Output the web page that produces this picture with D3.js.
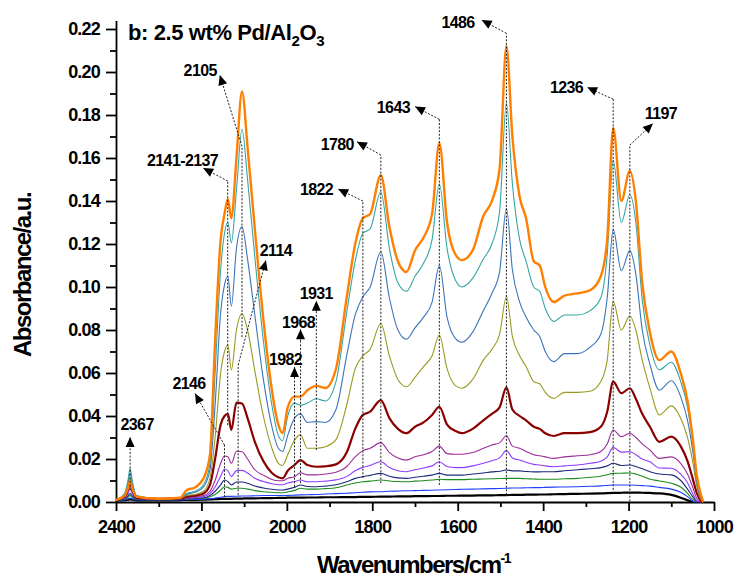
<!DOCTYPE html>
<html>
<head>
<meta charset="utf-8">
<script src="https://cdn.jsdelivr.net/npm/d3@7"></script>
<style>
  body { margin: 0; background: #fff; }
  svg { display: block; font-family: "Liberation Sans", Arial, sans-serif; font-weight: bold; }
  .axis path, .axis line { stroke: #000; stroke-width: 1.8; }
  .axis text { font-size: 18px; font-weight: bold; letter-spacing: -0.8px; fill: #000; }
  .label { font-size: 16px; letter-spacing: -0.6px; fill: #000; }
</style>
</head>
<body>
<div id="vis"></div>
<script>
// wavenumber grid (cm-1) shared by all spectra
var wavenumbers = [2400, 2380, 2372, 2367, 2362, 2352, 2300, 2250, 2235, 2215,
    2195, 2180, 2168, 2155, 2146, 2138, 2130, 2118, 2105, 2092,
    2075, 2055, 2035, 2020, 2010, 1998, 1982, 1968, 1952, 1931,
    1910, 1885, 1860, 1840, 1822, 1805, 1780, 1760, 1740, 1720,
    1700, 1680, 1660, 1643, 1625, 1605, 1590, 1565, 1540, 1520,
    1502, 1486, 1472, 1455, 1440, 1422, 1408, 1395, 1375, 1350,
    1320, 1290, 1265, 1250, 1236, 1217, 1197, 1183, 1168, 1150,
    1128, 1100, 1078, 1062, 1050, 1040, 1030, 1025];

// absorbance values, bottom spectrum first
var absBlack = [0.0008, 0.0009, 0.0011, 0.0012, 0.0011, 0.0008, 0.0008, 0.0009, 0.001, 0.001,
    0.0011, 0.0012, 0.0013, 0.0014, 0.0015, 0.0015, 0.0015, 0.0016, 0.0016, 0.0017,
    0.0017, 0.0018, 0.0018, 0.0019, 0.0019, 0.002, 0.002, 0.002, 0.0021, 0.0021,
    0.0022, 0.0022, 0.0023, 0.0023, 0.0024, 0.0024, 0.0025, 0.0025, 0.0026, 0.0026,
    0.0027, 0.0027, 0.0028, 0.0028, 0.0029, 0.0029, 0.003, 0.003, 0.0031, 0.0031,
    0.0032, 0.0032, 0.0033, 0.0033, 0.0034, 0.0034, 0.0035, 0.0035, 0.0036, 0.0037,
    0.0038, 0.0039, 0.004, 0.0041, 0.0042, 0.0043, 0.0044, 0.0044, 0.0043, 0.0042,
    0.004, 0.0033, 0.002, 0.0008, 0, 0, 0, 0];
var absBlue = [0.0008, 0.001, 0.0014, 0.0018, 0.0014, 0.001, 0.0009, 0.001, 0.0011, 0.0012,
    0.0013, 0.0015, 0.0018, 0.0022, 0.0025, 0.0026, 0.0026, 0.0027, 0.0028, 0.0028,
    0.0029, 0.003, 0.003, 0.003, 0.003, 0.0031, 0.0032, 0.0033, 0.0034, 0.0035,
    0.0037, 0.0039, 0.0041, 0.0043, 0.0045, 0.0047, 0.0048, 0.005, 0.0051, 0.0052,
    0.0053, 0.0054, 0.0055, 0.0056, 0.0057, 0.0058, 0.0059, 0.006, 0.0061, 0.0062,
    0.0063, 0.0064, 0.0065, 0.0065, 0.0066, 0.0067, 0.0067, 0.0068, 0.0069, 0.007,
    0.0071, 0.0073, 0.0075, 0.0077, 0.0079, 0.0079, 0.0079, 0.0078, 0.0076, 0.0074,
    0.0068, 0.006, 0.0045, 0.0025, 0.0005, 0, 0, 0];
var absGreen = [0.001, 0.0013, 0.0022, 0.003, 0.0022, 0.0012, 0.0011, 0.0012, 0.0014, 0.0016,
    0.0018, 0.0024, 0.0035, 0.0055, 0.0071, 0.0068, 0.006, 0.0064, 0.0064, 0.006,
    0.0053, 0.0048, 0.0045, 0.0043, 0.0043, 0.0047, 0.0054, 0.0064, 0.006, 0.006,
    0.0062, 0.0066, 0.0079, 0.0088, 0.0094, 0.0097, 0.0102, 0.0098, 0.0095, 0.0094,
    0.0097, 0.0099, 0.0102, 0.0106, 0.0104, 0.0104, 0.0104, 0.0106, 0.0107, 0.0108,
    0.0109, 0.011, 0.011, 0.011, 0.0108, 0.0107, 0.0106, 0.0106, 0.0106, 0.0108,
    0.011, 0.0115, 0.012, 0.0127, 0.0133, 0.0134, 0.0135, 0.013, 0.012, 0.0106,
    0.0098, 0.0087, 0.007, 0.004, 0.0012, 0, 0, 0];
var absNavy = [0.001, 0.0015, 0.0028, 0.004, 0.0028, 0.0014, 0.0012, 0.0013, 0.0016, 0.0018,
    0.002, 0.003, 0.005, 0.008, 0.0102, 0.0095, 0.0079, 0.0093, 0.0093, 0.0087,
    0.0074, 0.0065, 0.0059, 0.0056, 0.0056, 0.006, 0.0068, 0.0079, 0.0072, 0.0071,
    0.0074, 0.008, 0.0094, 0.011, 0.0118, 0.0124, 0.0133, 0.012, 0.0112, 0.011,
    0.0115, 0.012, 0.0125, 0.0133, 0.0125, 0.0125, 0.0125, 0.013, 0.0135, 0.014,
    0.0143, 0.0149, 0.0145, 0.0145, 0.0142, 0.014, 0.014, 0.0141, 0.0141, 0.0145,
    0.015, 0.0155, 0.016, 0.0168, 0.018, 0.017, 0.0172, 0.0165, 0.0155, 0.0141,
    0.013, 0.0126, 0.01, 0.006, 0.0025, 0, 0, 0];
var absViolet = [0.001, 0.0018, 0.004, 0.006, 0.004, 0.0016, 0.0012, 0.0014, 0.0018, 0.002,
    0.0025, 0.004, 0.007, 0.012, 0.0152, 0.0145, 0.0118, 0.0146, 0.0147, 0.0135,
    0.011, 0.0095, 0.0085, 0.008, 0.008, 0.0088, 0.0095, 0.0102, 0.0094, 0.0094,
    0.0097, 0.0103, 0.0118, 0.0145, 0.0161, 0.017, 0.0187, 0.016, 0.0145, 0.0141,
    0.015, 0.0158, 0.0168, 0.0187, 0.0165, 0.016, 0.016, 0.0168, 0.018, 0.0192,
    0.0205, 0.0239, 0.0205, 0.0195, 0.0185, 0.0175, 0.0172, 0.0168, 0.0164, 0.0168,
    0.0172, 0.018, 0.019, 0.021, 0.0254, 0.0232, 0.0234, 0.022, 0.02, 0.0187,
    0.0158, 0.0157, 0.013, 0.009, 0.004, 0.0005, 0, 0];
var absPurple = [0.001, 0.002, 0.005, 0.0075, 0.005, 0.0018, 0.0013, 0.0015, 0.002, 0.0025,
    0.003, 0.005, 0.01, 0.018, 0.0214, 0.021, 0.018, 0.0236, 0.0234, 0.02,
    0.015, 0.0125, 0.0105, 0.0099, 0.0099, 0.011, 0.0118, 0.0136, 0.0126, 0.0126,
    0.013, 0.0138, 0.0164, 0.021, 0.0239, 0.025, 0.0276, 0.023, 0.0205, 0.0195,
    0.021, 0.022, 0.0235, 0.026, 0.0225, 0.0222, 0.0222, 0.023, 0.025, 0.0265,
    0.0275, 0.0308, 0.026, 0.025, 0.0235, 0.022, 0.0215, 0.021, 0.0203, 0.021,
    0.0215, 0.022, 0.0235, 0.027, 0.0335, 0.0304, 0.032, 0.03, 0.027, 0.0242,
    0.0203, 0.021, 0.018, 0.013, 0.007, 0.0015, 0, 0];
var absDarkRed = [0.001, 0.0025, 0.006, 0.009, 0.006, 0.002, 0.0015, 0.0017, 0.0025, 0.003,
    0.004, 0.008, 0.02, 0.036, 0.04, 0.041, 0.0335, 0.0462, 0.0458, 0.039,
    0.028, 0.019, 0.0135, 0.0115, 0.011, 0.0145, 0.0172, 0.0195, 0.0172, 0.0164,
    0.0166, 0.0175, 0.023, 0.034, 0.0405, 0.042, 0.0474, 0.039, 0.034, 0.032,
    0.035, 0.037, 0.0405, 0.0443, 0.036, 0.033, 0.032, 0.034, 0.038, 0.041,
    0.044, 0.0533, 0.043, 0.04, 0.038, 0.035, 0.034, 0.032, 0.0307, 0.032,
    0.032, 0.0325, 0.035, 0.042, 0.056, 0.0506, 0.0529, 0.048, 0.041, 0.035,
    0.028, 0.0304, 0.026, 0.019, 0.011, 0.004, 0.0005, 0];
var absOlive = [0.001, 0.003, 0.0072, 0.011, 0.0072, 0.0024, 0.0015, 0.0017, 0.003, 0.0035,
    0.005, 0.011, 0.03, 0.06, 0.07, 0.073, 0.0614, 0.08, 0.0877, 0.08,
    0.061, 0.04, 0.025, 0.018, 0.017, 0.022, 0.0288, 0.0312, 0.025, 0.025,
    0.0257, 0.029, 0.045, 0.062, 0.068, 0.071, 0.083, 0.068, 0.057, 0.0536,
    0.058, 0.063, 0.068, 0.0777, 0.062, 0.054, 0.0529, 0.057, 0.066, 0.071,
    0.078, 0.0955, 0.077, 0.068, 0.063, 0.056, 0.055, 0.051, 0.0482, 0.051,
    0.051, 0.0515, 0.056, 0.066, 0.0932, 0.08, 0.0865, 0.08, 0.066, 0.053,
    0.0405, 0.0447, 0.039, 0.03, 0.019, 0.007, 0.001, 0];
var absSteel = [0.001, 0.0035, 0.0088, 0.0135, 0.0088, 0.0028, 0.0015, 0.0018, 0.0035, 0.0045,
    0.007, 0.015, 0.045, 0.088, 0.101, 0.105, 0.091, 0.118, 0.128, 0.113,
    0.087, 0.057, 0.035, 0.025, 0.0235, 0.031, 0.039, 0.041, 0.037, 0.0374,
    0.037, 0.043, 0.068, 0.087, 0.0955, 0.1, 0.1164, 0.095, 0.08, 0.0757,
    0.081, 0.086, 0.093, 0.11, 0.086, 0.076, 0.0743, 0.079, 0.089, 0.097,
    0.107, 0.1366, 0.108, 0.093, 0.086, 0.08, 0.077, 0.07, 0.0653, 0.069,
    0.069, 0.072, 0.078, 0.095, 0.1268, 0.1076, 0.1169, 0.106, 0.08, 0.064,
    0.052, 0.0564, 0.049, 0.038, 0.024, 0.009, 0.0015, 0];
var absTeal = [0.001, 0.004, 0.01, 0.0157, 0.01, 0.003, 0.0015, 0.0018, 0.004, 0.005,
    0.008, 0.018, 0.06, 0.108, 0.125, 0.13, 0.1205, 0.145, 0.1735, 0.15,
    0.114, 0.075, 0.045, 0.031, 0.0285, 0.04, 0.046, 0.045, 0.046, 0.048,
    0.047, 0.056, 0.088, 0.112, 0.125, 0.127, 0.1443, 0.118, 0.102, 0.098,
    0.105, 0.111, 0.122, 0.148, 0.118, 0.103, 0.1, 0.104, 0.113, 0.12,
    0.135, 0.1857, 0.148, 0.122, 0.112, 0.1, 0.098, 0.09, 0.084, 0.087,
    0.087, 0.089, 0.095, 0.115, 0.159, 0.13, 0.143, 0.13, 0.094, 0.073,
    0.0615, 0.065, 0.056, 0.044, 0.028, 0.011, 0.002, 0];
var absOrange = [0.001, 0.003, 0.0065, 0.0098, 0.0065, 0.0025, 0.0015, 0.002, 0.0055, 0.0068,
    0.011, 0.022, 0.075, 0.122, 0.134, 0.141, 0.132, 0.16, 0.191, 0.165,
    0.127, 0.085, 0.052, 0.036, 0.032, 0.044, 0.049, 0.049, 0.052, 0.054,
    0.053, 0.062, 0.095, 0.12, 0.132, 0.134, 0.152, 0.128, 0.112, 0.107,
    0.117, 0.123, 0.134, 0.167, 0.13, 0.115, 0.1125, 0.117, 0.133, 0.14,
    0.155, 0.212, 0.17, 0.142, 0.132, 0.112, 0.11, 0.1, 0.093, 0.096,
    0.097, 0.0985, 0.105, 0.122, 0.174, 0.14, 0.154, 0.14, 0.102, 0.079,
    0.066, 0.07, 0.06, 0.047, 0.03, 0.012, 0.003, 0];

var spectra = [absBlack, absBlue, absGreen, absNavy, absViolet, absPurple,
    absDarkRed, absOlive, absSteel, absTeal, absOrange];
var colors = ["#000000", "#2040ff", "#1f8c1f", "#1c2a7a", "#8f3cff", "#9b2d9b",
    "#8b0000", "#9a9a22", "#3b73b9", "#35a5a5", "#ff7f00"];
var widths = [2.2, 1.1, 1.1, 1.1, 1.1, 1.1, 2.2, 1.1, 1.1, 1.1, 2.4];

var xTicks = [2400, 2200, 2000, 1800, 1600, 1400, 1200, 1000];
var yTicks = [0, 0.02, 0.04, 0.06, 0.08, 0.10, 0.12, 0.14, 0.16, 0.18, 0.20, 0.22];

// peak labels: vertical marker at wave, arrow to the tip
var peaks = [
    {text: "2367", wave: 2367, top: 0.0256, bottom: 0.0056, tipW: 2367, tipV: 0.0302, anchor: "middle", dx: 7, dy: -7},
    {text: "2146", wave: 2146, top: 0.0265, bottom: 0.0023, tipW: 2215, tipV: 0.0505, anchor: "middle", dx: -6, dy: -4},
    {text: "2114", wave: 2114, top: 0.0637, bottom: 0.0033, tipW: 2049, tipV: 0.1125, anchor: "middle", dx: 10, dy: -4},
    {text: "2141-2137", wave: 2138.5, top: 0.1493, bottom: 0.0358, tipW: 2196, tipV: 0.1553, anchor: "end", dx: 15, dy: -2},
    {text: "2105", wave: 2105, top: 0.1654, bottom: 0.0767, tipW: 2157, tipV: 0.1986, anchor: "end", dx: -3, dy: 1},
    {text: "1982", wave: 1982, top: 0.0572, bottom: 0.007, tipW: 1982, tipV: 0.0628, anchor: "middle", dx: -9, dy: -2},
    {text: "1968", wave: 1968, top: 0.0746, bottom: 0.0088, tipW: 1968, tipV: 0.0803, anchor: "middle", dx: -2, dy: -1},
    {text: "1931", wave: 1931, top: 0.0885, bottom: 0.0242, tipW: 1931, tipV: 0.0936, anchor: "middle", dx: 0, dy: -2},
    {text: "1822", wave: 1822, top: 0.14, bottom: 0.0112, tipW: 1880, tipV: 0.1456, anchor: "end", dx: -5, dy: 6},
    {text: "1780", wave: 1780, top: 0.1614, bottom: 0.0088, tipW: 1836, tipV: 0.1676, anchor: "end", dx: -3, dy: 8},
    {text: "1643", wave: 1643, top: 0.178, bottom: 0.0079, tipW: 1700, tipV: 0.1839, anchor: "end", dx: -5, dy: 6},
    {text: "1486", wave: 1486, top: 0.218, bottom: 0.0033, tipW: 1544, tipV: 0.2242, anchor: "end", dx: -7, dy: 8},
    {text: "1236", wave: 1236, top: 0.1873, bottom: 0.0056, tipW: 1297, tipV: 0.1929, anchor: "end", dx: -4, dy: 6},
    {text: "1197", wave: 1197, top: 0.166, bottom: 0.0003, tipW: 1143, tipV: 0.1761, anchor: "middle", dx: 8, dy: -4}
];

var width = 740,
    height = 581;

var svg = d3.select("#vis").append("svg")
    .attr("width", width)
    .attr("height", height);

svg.append("defs").append("marker")
    .attr("id", "head")
    .attr("viewBox", "0 -5 10 10")
    .attr("refX", 10)
    .attr("refY", 0)
    .attr("markerUnits", "userSpaceOnUse")
    .attr("markerWidth", 12)
    .attr("markerHeight", 10)
    .attr("orient", "auto")
    .append("path")
    .attr("d", "M0,-4.5L10,0L0,4.5Z")
    .attr("fill", "#000");

var x = d3.scaleLinear()
    .domain([2400, 1000])
    .range([116, 714]);

var y = d3.scaleLinear()
    .domain([0, 0.224])
    .range([502, 502 - 0.224 * 2150]);

// minor ticks first, majors on top
svg.append("g")
    .attr("class", "axis")
    .attr("transform", "translate(0,502)")
    .call(d3.axisBottom(x).tickValues(d3.range(2300, 1000, -200)).tickSize(5).tickFormat(""))
    .select(".domain").remove();

svg.append("g")
    .attr("class", "axis")
    .attr("transform", "translate(116,0)")
    .call(d3.axisLeft(y).tickValues(d3.range(0.01, 0.22, 0.02)).tickSize(6).tickFormat(""))
    .select(".domain").remove();

svg.append("g")
    .attr("class", "axis")
    .attr("transform", "translate(0,502)")
    .call(d3.axisBottom(x).tickValues(xTicks).tickSize(9).tickSizeOuter(0).tickPadding(9)
        .tickFormat(d3.format("d")));

svg.append("g")
    .attr("class", "axis")
    .attr("transform", "translate(116,0)")
    .call(d3.axisLeft(y).tickValues(yTicks).tickSize(10).tickSizeOuter(0).tickPadding(6)
        .tickFormat(d3.format(".2f")));

var line = d3.line()
    .x(function(d) { return x(d[0]); })
    .y(function(d) { return y(d[1]); })
    .curve(d3.curveMonotoneX);

spectra.forEach(function(vals, k) {
    var pts = [];
    for (var i = 0; i < wavenumbers.length; i++) {
        pts.push([wavenumbers[i], vals[i]]);
        if (vals[i] === 0 && i > 10) break;
    }
    svg.append("path")
        .datum(pts)
        .attr("fill", "none")
        .attr("stroke", colors[k])
        .attr("stroke-width", widths[k])
        .attr("stroke-linejoin", "round")
        .attr("d", line);
});

// peak markers
var marks = svg.append("g")
    .attr("fill", "none")
    .attr("stroke", "#222")
    .attr("stroke-width", 1)
    .attr("stroke-dasharray", "2,1.6");

peaks.forEach(function(p) {
    marks.append("line")
        .attr("x1", x(p.wave)).attr("x2", x(p.wave))
        .attr("y1", y(p.bottom)).attr("y2", y(p.top));
    marks.append("line")
        .attr("x1", x(p.wave)).attr("y1", y(p.top))
        .attr("x2", x(p.tipW)).attr("y2", y(p.tipV))
        .attr("marker-end", "url(#head)");
    svg.append("text")
        .attr("class", "label")
        .attr("x", x(p.tipW) + p.dx)
        .attr("y", y(p.tipV) + p.dy)
        .attr("text-anchor", p.anchor)
        .text(p.text);
});

// title
var title = svg.append("text")
    .attr("x", 128)
    .attr("y", 40)
    .style("font-size", "22px")
    .style("letter-spacing", "-0.4px");
title.append("tspan").text("b: 2.5 wt% Pd/Al");
title.append("tspan").attr("dy", 6).style("font-size", "15px").text("2");
title.append("tspan").attr("dy", -6).text("O");
title.append("tspan").attr("dy", 6).style("font-size", "15px").text("3");

// axis titles
var xt = svg.append("text")
    .attr("x", 317)
    .attr("y", 573)
    .style("font-size", "24px")
    .style("letter-spacing", "-1.5px");
xt.append("tspan").text("Wavenumbers/cm");
xt.append("tspan").attr("dy", -10).style("font-size", "14px").text("-1");

svg.append("text")
    .attr("transform", "translate(31,275) rotate(-90)")
    .attr("text-anchor", "middle")
    .style("font-size", "24px")
    .style("letter-spacing", "-1.5px")
    .text("Absorbance/a.u.");
</script>
</body>
</html>
